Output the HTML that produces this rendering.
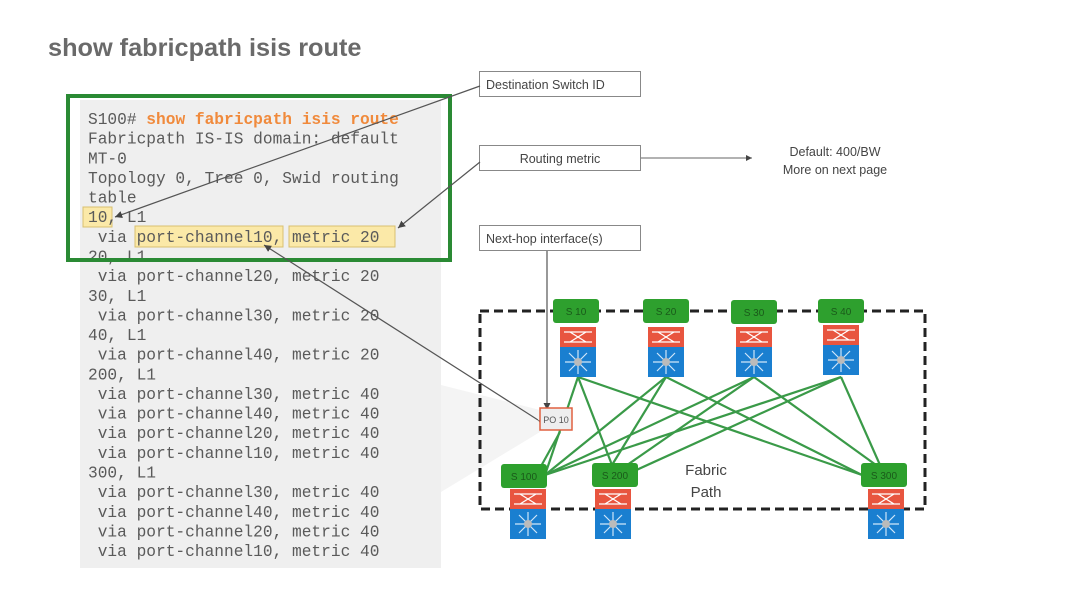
<!DOCTYPE html>
<html><head><meta charset="utf-8"><style>
html,body{margin:0;padding:0;background:#fff;width:1077px;height:600px;overflow:hidden}
svg{display:block}
.m{font-family:"Liberation Mono",monospace;font-size:16.2px;fill:#5a5a5a}
.s{font-family:"Liberation Sans",sans-serif;font-size:12.5px;fill:#444}
.l{font-family:"Liberation Sans",sans-serif;font-size:10px;fill:#1a5a1a}
</style></head><body>
<svg width="1077" height="600" viewBox="0 0 1077 600">
<defs>
<marker id="a" markerWidth="8" markerHeight="8" refX="6" refY="3" orient="auto"><path d="M0,0 L6,3 L0,6z" fill="#444"/></marker>
<g id="dev">
<rect x="-18" y="0" width="36" height="20" fill="#e8553f"/>
<path d="M-14,5 H14 M-14,15 H14 M-8,5 L8,15 M-8,15 L8,5" stroke="#fff" stroke-width="1.3"/>
<rect x="-18" y="20" width="36" height="30" fill="#1a7fd0"/>
<path d="M-13,35 H13 M0,23 V47 M-9,26 L9,44 M-9,44 L9,26" stroke="#cfe6fa" stroke-width="1.2"/>
<circle cx="0" cy="35" r="4" fill="#bbb"/>
</g>
<g id="lbl"><rect x="-23" y="0" width="46" height="24" rx="3" fill="#2ea02e"/></g>
</defs>
<text x="48" y="56" font-family="Liberation Sans,sans-serif" font-weight="bold" font-size="25.3" fill="#6a6a6a">show fabricpath isis route</text>
<rect x="80" y="100" width="361" height="468" fill="#efefef"/>
<polygon points="441,385 540,410 540,432 441,492" fill="#f4f4f4"/>
<rect x="83" y="207" width="29" height="20" fill="#fbe9a8" stroke="#d8c070"/>
<rect x="135" y="226" width="148" height="21" fill="#fbe9a8" stroke="#d8c070"/>
<rect x="289" y="226" width="106" height="21" fill="#fbe9a8" stroke="#d8c070"/>
<g class="m">
<text x="88" y="124">S100# <tspan fill="#f08a3c" font-weight="bold">show fabricpath isis route</tspan></text>
<text x="88" y="143.6">Fabricpath IS-IS domain: default</text>
<text x="88" y="163.3">MT-0</text>
<text x="88" y="182.9">Topology 0, Tree 0, Swid routing</text>
<text x="88" y="202.6">table</text>
<text x="88" y="222.2">10, L1</text>
<text x="88" y="241.8">&#160;via port-channel10, metric 20</text>
<text x="88" y="261.5">20, L1</text>
<text x="88" y="281.1">&#160;via port-channel20, metric 20</text>
<text x="88" y="300.8">30, L1</text>
<text x="88" y="320.4">&#160;via port-channel30, metric 20</text>
<text x="88" y="340">40, L1</text>
<text x="88" y="359.7">&#160;via port-channel40, metric 20</text>
<text x="88" y="379.3">200, L1</text>
<text x="88" y="399">&#160;via port-channel30, metric 40</text>
<text x="88" y="418.6">&#160;via port-channel40, metric 40</text>
<text x="88" y="438.2">&#160;via port-channel20, metric 40</text>
<text x="88" y="457.9">&#160;via port-channel10, metric 40</text>
<text x="88" y="477.5">300, L1</text>
<text x="88" y="497.2">&#160;via port-channel30, metric 40</text>
<text x="88" y="516.8">&#160;via port-channel40, metric 40</text>
<text x="88" y="536.4">&#160;via port-channel20, metric 40</text>
<text x="88" y="556.1">&#160;via port-channel10, metric 40</text>
</g>
<rect x="68" y="96" width="382" height="164" fill="none" stroke="#2a8a34" stroke-width="4"/>
<g fill="#fff" stroke="#888" stroke-width="1">
<rect x="479.5" y="71.5" width="161" height="25"/>
<rect x="479.5" y="145.5" width="161" height="25"/>
<rect x="479.5" y="225.5" width="161" height="25"/>
</g>
<text class="s" x="486" y="89">Destination Switch ID</text>
<text class="s" x="560" y="163" text-anchor="middle">Routing metric</text>
<text class="s" x="486" y="243">Next-hop interface(s)</text>
<line x1="641" y1="158" x2="752" y2="158" stroke="#666" marker-end="url(#a)"/>
<text class="s" x="835" y="156" text-anchor="middle">Default: 400/BW</text>
<text class="s" x="835" y="174" text-anchor="middle">More on next page</text>
<g stroke="#555" stroke-width="1.2" fill="none">
<line x1="480" y1="86" x2="115" y2="217" marker-end="url(#a)"/>
<line x1="480" y1="162" x2="398" y2="228" marker-end="url(#a)"/>
<line x1="547" y1="251" x2="547" y2="410" marker-end="url(#a)"/>
<line x1="538" y1="420" x2="264" y2="245" marker-end="url(#a)" marker-start="url(#a)"/>
</g>
<rect x="480" y="311" width="445" height="198" fill="none" stroke="#222" stroke-width="3" stroke-dasharray="9,5"/>
<g stroke="#3a9a48" stroke-width="2.2">
<line x1="578" y1="377" x2="545" y2="475"/><line x1="578" y1="377" x2="612" y2="465"/><line x1="578" y1="377" x2="862" y2="475"/>
<line x1="666" y1="377" x2="545" y2="475"/><line x1="666" y1="377" x2="612" y2="465"/><line x1="666" y1="377" x2="862" y2="475"/>
<line x1="754" y1="377" x2="545" y2="475"/><line x1="754" y1="377" x2="620" y2="470"/><line x1="754" y1="377" x2="876" y2="465"/>
<line x1="841" y1="377" x2="545" y2="475"/><line x1="841" y1="377" x2="632" y2="472"/><line x1="841" y1="377" x2="880" y2="465"/>
<line x1="560" y1="432" x2="540" y2="468"/>
</g>
<rect x="540" y="408" width="32" height="22" fill="#eee" stroke="#e06040" stroke-width="1.5"/>
<text x="556" y="423" text-anchor="middle" font-family="Liberation Sans,sans-serif" font-size="9" fill="#555">PO 10</text>
<g>
<use href="#lbl" x="576" y="299"/><use href="#dev" x="578" y="327"/>
<use href="#lbl" x="666" y="299"/><use href="#dev" x="666" y="327"/>
<use href="#lbl" x="754" y="300"/><use href="#dev" x="754" y="327"/>
<use href="#lbl" x="841" y="299"/><use href="#dev" x="841" y="325"/>
<use href="#lbl" x="524" y="464"/><use href="#dev" x="528" y="489"/>
<use href="#lbl" x="615" y="463"/><use href="#dev" x="613" y="489"/>
<use href="#lbl" x="884" y="463"/><use href="#dev" x="886" y="489"/>
</g>
<g class="l" text-anchor="middle">
<text x="576" y="315">S 10</text><text x="666" y="315">S 20</text><text x="754" y="316">S 30</text><text x="841" y="315">S 40</text>
<text x="524" y="480">S 100</text><text x="615" y="479">S 200</text><text x="884" y="479">S 300</text>
</g>
<text x="706" y="475" text-anchor="middle" font-family="Liberation Sans,sans-serif" font-size="15" fill="#444">Fabric</text>
<text x="706" y="497" text-anchor="middle" font-family="Liberation Sans,sans-serif" font-size="15" fill="#444">Path</text>
</svg>
</body></html>
